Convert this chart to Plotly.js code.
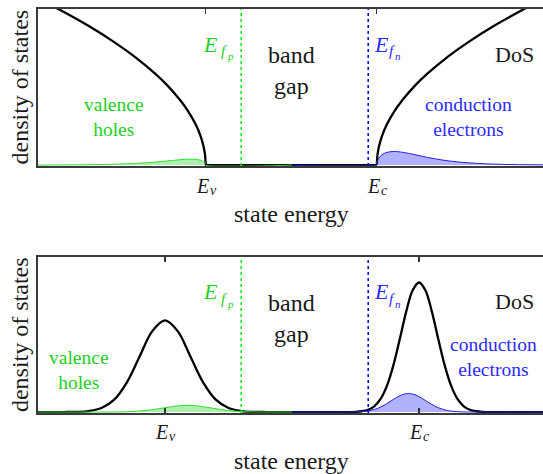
<!DOCTYPE html>
<html>
<head>
<meta charset="utf-8">
<script src="https://cdn.plot.ly/plotly-3.0.1.min.js"></script>
<style>
  html, body { margin: 0; padding: 0; background: #fff; overflow: hidden; }
  #chart { width: 543px; height: 474px; }
</style>
</head>
<body>
<div id="chart"></div>
<script>
// ---- Upper panel: parabolic band edges (square-root density of states) ----
var topValE   = [0.0, 0.4, 1.0, 1.5, 1.9, 2.3, 2.55, 2.8, 2.95, 3.1, 3.2, 3.26, 3.29, 3.3];
var topValDos = [10.67, 10.0, 8.91, 7.88, 6.95, 5.87, 5.09, 4.15, 3.47, 2.63, 1.86, 1.17, 0.59, 0];
var topCondE   = [6.67, 6.68, 6.71, 6.77, 6.87, 7.02, 7.17, 7.42, 7.67, 8.07, 8.47, 8.97, 9.57, 9.94];
var topCondDos = [0, 0.59, 1.17, 1.86, 2.63, 3.47, 4.15, 5.09, 5.87, 6.95, 7.88, 8.91, 10.0, 10.62];
var topHoleE = [0.0, 0.8, 1.3, 1.7, 2.0, 2.3, 2.55, 2.75, 2.9, 3.0, 3.1, 3.2, 3.26, 3.29, 3.3, 5.0];
var topHoles = [0.004, 0.015, 0.037, 0.074, 0.120, 0.190, 0.265, 0.330, 0.371, 0.383, 0.372, 0.312, 0.218, 0.114, 0, 0];
var topElecE = [5.0, 6.67, 6.68, 6.71, 6.77, 6.87, 6.97, 7.07, 7.22, 7.42, 7.67, 7.97, 8.27, 8.67, 9.17, 9.94];
var topElecs = [0, 0, 0.233, 0.449, 0.658, 0.814, 0.865, 0.860, 0.795, 0.662, 0.489, 0.317, 0.198, 0.101, 0.042, 0.011];
var topEdges = [3.3, 6.67];          // E_v, E_c

// ---- Lower panel: Gaussian (disordered) band edges ----
var botE = [0, 0.5, 0.75, 1.0, 1.25, 1.5, 1.75, 2.0, 2.25, 2.5, 2.75, 3.0, 3.25, 3.5, 3.75, 4.0, 4.25, 4.5,
            5.0, 5.5, 6.0, 6.25, 6.375, 6.5, 6.625, 6.75, 6.875, 7.0, 7.125, 7.25, 7.375, 7.5, 7.625, 7.75,
            7.875, 8.0, 8.125, 8.25, 8.375, 8.5, 8.625, 8.75, 9.0, 9.5, 9.94];
var botDos = [0, 0.002, 0.013, 0.066, 0.259, 0.799, 1.916, 3.579, 5.207, 5.9, 5.207, 3.579, 1.916, 0.799, 0.259, 0.066, 0.013, 0.002,
              0, 0, 0.001, 0.016, 0.053, 0.153, 0.390, 0.879, 1.748, 3.068, 4.752, 6.495, 7.835, 8.34, 7.835, 6.495,
              4.752, 3.068, 1.748, 0.879, 0.390, 0.153, 0.053, 0.016, 0.001, 0, 0];
var botHoleE = [0, 1.0, 1.5, 1.75, 2.0, 2.25, 2.5, 2.625, 2.75, 2.875, 3.0, 3.125, 3.25, 3.5, 3.75, 4.0, 4.25, 4.5, 5.0];
var botHoles = [0, 0, 0.005, 0.021, 0.064, 0.153, 0.280, 0.344, 0.395, 0.425, 0.427, 0.400, 0.350, 0.215, 0.098, 0.033, 0.008, 0.002, 0];
var botElecE = [5.0, 6.0, 6.25, 6.375, 6.5, 6.625, 6.75, 6.875, 7.0, 7.125, 7.25, 7.375, 7.5, 7.625, 7.75, 7.875, 8.0, 8.125, 8.25, 8.375, 8.5, 9.0, 9.94];
var botElecs = [0, 0.001, 0.010, 0.030, 0.076, 0.171, 0.332, 0.561, 0.825, 1.058, 1.185, 1.160, 0.994, 0.747, 0.493, 0.286, 0.146, 0.065, 0.026, 0.009, 0.003, 0, 0];
var botEdges = [2.5, 7.5];           // E_v, E_c

// quasi-Fermi levels (same in both panels)
var fermiLevels = [4.0, 6.5];        // E_fp, E_fn
var edgeSymbol = 'E';
var edgeSubs = ['v', 'c'];
var fermiSubs = [['f', 'p'], ['f', 'n']];
var xTitle = 'state energy';
var yTitle = 'density of states';

var SERIF = 'Liberation Serif, Times New Roman, Times, DejaVu Serif, serif';
var GREEN = '#22d022', GREEN_FILL = 'rgba(40,215,40,0.38)', GREEN_LINE = '#19ee19';
var BLUE = '#2a2aff', BLUE_FILL = 'rgba(70,70,255,0.42)', BLUE_LINE = '#0000e6';
var INK = '#1a1a1a';

function dosLine(x, y, xa, ya, shape) {
  return { x: x, y: y, xaxis: xa, yaxis: ya, mode: 'lines', hoverinfo: 'skip',
           line: { color: '#000', width: 2.3, shape: shape || 'spline' } };
}
function filled(x, y, xa, ya, line, fill) {
  return { x: x, y: y, xaxis: xa, yaxis: ya, mode: 'lines', fill: 'tozeroy', fillcolor: fill,
           hoverinfo: 'skip', line: { color: line, width: 1, shape: 'spline' } };
}

var data = [
  dosLine(topValE, topValDos, 'x', 'y'),
  dosLine(topEdges, [0, 0], 'x', 'y', 'linear'),
  dosLine(topCondE, topCondDos, 'x', 'y'),
  filled(topHoleE, topHoles, 'x', 'y', '#33dd33', GREEN_FILL),
  filled(topElecE, topElecs, 'x', 'y', '#2222dd', BLUE_FILL),

  dosLine(botE, botDos, 'x2', 'y2'),
  filled(botHoleE, botHoles, 'x2', 'y2', '#33dd33', GREEN_FILL),
  filled(botElecE, botElecs, 'x2', 'y2', '#2222dd', BLUE_FILL)
];

function xAxis(ticks, anchor) {
  return {
    anchor: anchor, range: [0, 9.94], domain: [0, 1],
    showgrid: false, zeroline: false,
    showline: true, linecolor: '#3a3a3a', linewidth: 1.6, mirror: 'ticks',
    ticks: 'inside', ticklen: 5, tickwidth: 1.2, tickcolor: '#333',
    tickvals: ticks, showticklabels: false,
    automargin: false, fixedrange: true
  };
}
function yAxis(domain, anchor) {
  return {
    anchor: anchor, domain: domain, range: [-0.06, 10],
    showgrid: false, zeroline: false, showticklabels: false, ticks: '',
    showline: true, linecolor: '#3a3a3a', linewidth: 1.6, mirror: false,
    automargin: false, fixedrange: true
  };
}

function fermiShapes(xref, yref) {
  var cols = [GREEN_LINE, BLUE_LINE];
  return fermiLevels.map(function (e, i) {
    return { type: 'line', xref: xref, yref: yref + ' domain', x0: e, x1: e, y0: 0, y1: 1,
             line: { color: cols[i], width: 1.6, dash: 'dot' } };
  });
}

function label(text, x, y, xref, yref, color, size, anchor, angle) {
  return { text: text, x: x, y: y, xref: xref, yref: yref, showarrow: false,
           xanchor: anchor || 'center', yanchor: 'middle', align: 'center',
           textangle: angle || 0,
           font: { family: SERIF, size: size, color: color } };
}
// italic glyph placed with a pixel offset from an anchor point
function glyph(text, x, y, xref, yref, color, size, anchor, dx, dy) {
  return { text: text, x: x, y: y, xref: xref, yref: yref, showarrow: false,
           xanchor: anchor, yanchor: 'middle', xshift: dx, yshift: dy, borderpad: 0,
           font: { family: SERIF, size: size, color: color, style: 'italic' } };
}

// band-edge labels under the ticks: E with subscript v / c
function edgeLabels(vals, yPaper) {
  var out = [];
  vals.forEach(function (v, i) {
    out.push(glyph(edgeSymbol, v, yPaper, 'x', 'paper', INK, 20, 'right', 4, 0));
    out.push(glyph(edgeSubs[i], v, yPaper, 'x', 'paper', INK, 14, 'left', 3, -5));
  });
  return out;
}
// quasi-Fermi level labels: E with subscript f and sub-subscript p / n
function fermiLabels(xref, yref, yVal) {
  var cols = [GREEN, BLUE];
  var out = [];
  // E_fp sits left of its line, E_fn right of its line
  out.push(glyph(edgeSymbol, fermiLevels[0], yVal, xref, yref, cols[0], 22, 'right', -22, 0));
  out.push(glyph(fermiSubs[0][0], fermiLevels[0], yVal, xref, yref, cols[0], 15, 'left', -21, -7));
  out.push(glyph(fermiSubs[0][1], fermiLevels[0], yVal, xref, yref, cols[0], 11, 'left', -15, -12));
  out.push(glyph(edgeSymbol, fermiLevels[1], yVal, xref, yref, cols[1], 22, 'left', 5, 0));
  out.push(glyph(fermiSubs[1][0], fermiLevels[1], yVal, xref, yref, cols[1], 15, 'left', 20, -7));
  out.push(glyph(fermiSubs[1][1], fermiLevels[1], yVal, xref, yref, cols[1], 11, 'left', 26, -12));
  return out;
}

var annotations = [
  // axis titles for both panels
  label(xTitle, 0.501, 0.4926, 'paper', 'paper', INK, 24),
  label(xTitle, 0.501, -0.1188, 'paper', 'paper', INK, 24),
  label(yTitle, -0.0356, 0.8057, 'paper', 'paper', INK, 24, 'center', -90),
  label(yTitle, -0.0356, 0.193, 'paper', 'paper', INK, 24, 'center', -90),

  label('band<br>gap', 4.98, 6.08, 'x', 'y', INK, 24),
  label('DoS', 9.37, 7.07, 'x', 'y', INK, 22),
  label('valence<br>holes', 1.5, 3.09, 'x', 'y', GREEN, 19.5),
  label('conduction<br>electrons', 8.48, 3.09, 'x', 'y', BLUE, 19.5),

  label('band<br>gap', 4.98, 6.05, 'x2', 'y2', INK, 24),
  label('DoS', 9.37, 7.1, 'x2', 'y2', INK, 22),
  label('valence<br>holes', 0.81, 2.69, 'x2', 'y2', GREEN, 19.5),
  label('conduction<br>electrons', 8.96, 3.55, 'x2', 'y2', BLUE, 19.5)
].concat(
  edgeLabels(topEdges, 0.5619),
  edgeLabels(botEdges, -0.047).map(function (a) { a.xref = 'x2'; return a; }),
  fermiLabels('x', 'y', 7.74),
  fermiLabels('x2', 'y2', 7.73)
);

var layout = {
  width: 543, height: 474,
  margin: { l: 38, r: 0, t: 9, b: 61 },
  paper_bgcolor: '#fff', plot_bgcolor: '#fff',
  font: { family: SERIF },
  showlegend: false,
  xaxis: xAxis(topEdges, 'y'),
  yaxis: yAxis([0.6114, 1], 'x'),
  xaxis2: xAxis(botEdges, 'y2'),
  yaxis2: yAxis([0, 0.3869], 'x2'),
  shapes: fermiShapes('x', 'y').concat(fermiShapes('x2', 'y2')),
  annotations: annotations
};

Plotly.newPlot('chart', data, layout, { staticPlot: true, displayModeBar: false });
</script>
</body>
</html>
